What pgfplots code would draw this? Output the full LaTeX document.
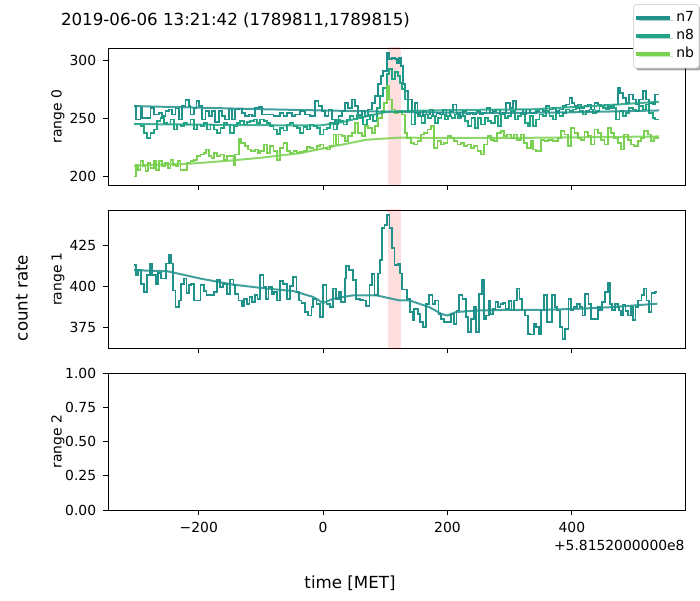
\documentclass[border=0pt]{standalone}
\usepackage{pgfplots}
\pgfplotsset{compat=1.18}
\usepackage{fontspec}
\setmainfont{DejaVu Sans}
\usetikzlibrary{shadows}
\definecolor{cn7}{RGB}{33,145,140}
\definecolor{cn8}{RGB}{34,163,134}
\definecolor{cnb}{RGB}{122,209,81}
\newcommand\tf{\fontsize{6.94pt}{8pt}\selectfont}
\newcommand\lf{\fontsize{8.33pt}{10pt}\selectfont}
\pgfplotsset{
  panel/.style={scale only axis, width=288.5pt, xmin=-346, xmax=582,
    axis line style={line width=0.4pt}, tick align=outside,
    xtick pos=lower, ytick pos=left, major tick length=2.4pt,
    tick style={line width=0.4pt, black}, tick label style={font=\tf},
    xtick={-200,0,200,400}, /pgf/number format/assume math mode=true,
    every axis y label/.style={at={(rel axis cs:-0.0867,0.5)}, anchor=center, rotate=90, font=\tf},
  },
  dat/.style={const plot mark left, line width=0.9pt, mark=none, forget plot, line join=miter},
  bg/.style={line width=1pt, opacity=0.85, mark=none, forget plot},
  band/.style={fill=red, fill opacity=0.13, draw=none, forget plot},
}
\begin{document}
\begin{tikzpicture}
\useasboundingbox (0,0) rectangle (350pt,300pt);
% ---------------- range 0 ----------------
\begin{axis}[panel, at={(54pt,207.5pt)}, anchor=south west, height=68.5pt,
  ymin=193, ymax=311, ytick={200,250,300}, xticklabels={,,,}, ylabel={range 0},
  legend style={at={(rel axis cs:0.9099,1.321)}, anchor=north west, draw=black!15, fill=white,
    rounded corners=1.5pt, font=\tf, inner xsep=0.5pt, inner ysep=1.5pt, row sep=-1.6pt,
    cells={anchor=west}, drop shadow={shadow xshift=1.2pt, shadow yshift=-1.2pt, fill=black, opacity=0.35}},
  legend image code/.code={\draw[#1, line width=2pt] (0pt,0pt) -- (17pt,0pt);}]
\addplot[band] coordinates {(104,150) (125,150) (125,350) (104,350)} -- cycle;
\addplot[dat, cn7] coordinates {(-304.3,261.5) (-301.6,249.4) (-293.6,259.5) (-290.9,250.9) (-277.5,259.5) (-272.2,253.7) (-264.2,255.2) (-258.8,252.3) (-253.5,256.6) (-248.1,258.1) (-242.8,253.7) (-237.4,258.9) (-232.1,249.4) (-226.7,261) (-221.4,265.9) (-216,261) (-213.4,253.7) (-208,259.5) (-203.7,265.3) (-200,261) (-194.7,249.4) (-189.3,256.6) (-184,252.3) (-178.6,256.6) (-173.3,247.4) (-167.9,256.6) (-162.6,252.3) (-157.2,249.4) (-151.9,258.1) (-146.5,249.4) (-141.2,258.1) (-135.8,258.9) (-130.5,255.2) (-125.1,252.3) (-119.8,253.7) (-114.4,252.3) (-109.1,259.5) (-103.7,260.1) (-98.4,253.7) (-79.9,252.3) (-69,255.2) (-63.6,252.3) (-58.3,255.2) (-50.3,252.3) (-44.9,253.7) (-36.9,256.6) (-28.9,253.7) (-20.9,252.3) (-12.8,265.3) (-7.5,261) (-2.1,256.6) (3.2,252.3) (8.6,258.1) (13.9,249.4) (19.3,245.1) (24.6,252.3) (29.9,256.6) (35.3,263.8) (40.6,259.5) (46,266.7) (51.3,261) (56.7,252.3) (62,256.6) (67.4,252.3) (72.7,258.1) (78.1,263.8) (83.4,269.6) (88.8,279.7) (92.5,286.9) (96.8,291.2) (102.1,307.1) (106.4,301.3) (110.2,302.7) (115.5,301.3) (118.2,298.4) (121.9,302.7) (125.1,295.5) (128.9,279.7) (131.6,273.9) (136.9,266.7) (143.3,256.6) (147.6,263.8) (151.9,255.2) (155.6,252.3) (161,256.6) (166.3,253.7) (171.7,258.1) (177,252.3) (182.4,255.2) (187.7,253.7) (193,258.1) (198.4,252.3) (203.7,256.6) (209.1,262.4) (214.4,255.2) (219.8,252.3) (225.1,256.6) (230.5,253.7) (235.8,255.2) (241.2,253.7) (246.5,256.6) (251.9,253.7) (257.2,255.2) (262.6,259.5) (267.9,255.2) (273.3,256.6) (278.6,258.1) (283.9,253.7) (289.3,255.2) (294.6,263.8) (300,259.5) (305.3,265.3) (310.7,258.1) (321.4,253.7) (326.7,258.1) (332.1,255.2) (342.8,256.6) (348.1,258.1) (353.5,256.6) (358.8,261) (364.2,258.1) (369.5,259.5) (374.9,256.6) (380.2,258.1) (385.6,261) (390.9,262.4) (396.3,268.2) (400.5,263.8) (404.3,261) (409.6,262.4) (415,259.5) (420.3,261) (425.7,262.4) (431,258.1) (436.4,263.8) (441.7,262.4) (447.1,261) (452.4,262.4) (457.8,259.5) (463.1,261) (468.4,262.4) (473.8,276.8) (477.5,272.5) (481.8,268.2) (487.2,263.8) (492.5,271) (497.9,266.7) (503.2,262.4) (508.6,266.7) (513.9,273.9) (519.3,266.7) (524.6,263.8) (529.9,262.4) (534.2,271) (540.4,271)};
\addplot[dat, cn8] coordinates {(-304.3,246) (-293.6,243.7) (-288.2,237.9) (-282.9,233.6) (-277.5,237.9) (-272.2,240.8) (-266.8,248) (-261.5,250.9) (-256.1,246.5) (-250.8,245.1) (-245.5,249.4) (-240.1,240.8) (-234.8,245.1) (-229.4,243.7) (-224.1,246.5) (-218.7,245.1) (-213.4,249.4) (-208,240.8) (-202.7,245.1) (-197.3,243.7) (-192,246.5) (-186.6,240.8) (-181.3,245.1) (-175.9,240.8) (-170.6,237.9) (-165.2,242.2) (-159.9,246.5) (-154.5,245.1) (-149.2,237.9) (-143.9,243.7) (-138.5,246.5) (-133.2,248) (-127.8,245.1) (-122.5,247.4) (-117.1,248) (-111.8,249.4) (-106.4,246.5) (-101.1,249.4) (-95.7,248) (-90.4,246.5) (-85,243.7) (-79.7,240.8) (-74.3,237) (-69,242.2) (-63.6,239.9) (-58.3,245.1) (-52.9,246.5) (-47.6,243.7) (-42.2,242.2) (-36.9,237.9) (-31.6,242.8) (-26.2,240.8) (-20.9,245.1) (-15.5,243.7) (-10.2,242.2) (-4.8,236.5) (0.5,240.8) (5.9,242.2) (11.2,246.5) (16.6,240.8) (21.9,249.4) (27.3,248) (32.6,245.1) (38,249.4) (43.3,252.3) (48.7,249.4) (54,253.7) (59.4,250.9) (64.7,245.1) (70.1,249.4) (75.4,253.7) (80.7,248) (86.1,259.5) (91.4,269.6) (96.8,276.8) (102.1,288.3) (106.4,292.7) (110.2,284) (115.5,290) (119.8,286.9) (123.5,281.1) (127.3,275.4) (131.6,266.7) (136.9,256.6) (142.2,245.1) (147.6,255.2) (152.9,252.3) (158.3,246.5) (163.6,253.7) (169,250.9) (174.3,252.3) (179.7,246.5) (185,250.9) (190.4,253.7) (195.7,249.4) (201.1,252.3) (206.4,250.9) (211.8,253.7) (217.1,250.9) (222.5,252.3) (227.8,248) (233.2,243.7) (238.5,250.9) (243.9,242.2) (249.2,250.9) (254.5,245.1) (259.9,250.9) (265.2,248) (270.6,246.5) (275.9,252.3) (281.3,243.7) (286.6,253.7) (292,250.9) (297.3,252.3) (302.7,256.6) (308,249.4) (313.4,252.3) (318.7,255.2) (324.1,246.5) (329.4,243.7) (332.1,252.3) (337.4,243.7) (342.8,249.4) (348.1,253.7) (353.5,252.3) (358.8,256.6) (364.2,252.3) (369.5,249.4) (374.9,255.2) (380.2,252.3) (385.6,255.2) (390.9,258.1) (396.3,256.6) (401.6,258.1) (406.9,259.5) (412.3,256.6) (417.6,253.7) (423,256.6) (428.3,258.1) (433.7,255.2) (439,256.6) (444.4,261) (449.7,259.5) (455.1,258.1) (460.4,261) (465.8,259.5) (471.1,249.4) (476.5,256.6) (481.8,252.3) (487.2,255.2) (492.5,259.5) (497.9,258.1) (503.2,256.6) (508.6,261) (513.9,258.1) (519.3,262.4) (524.6,255.2) (529.9,250.9) (534.2,249.4) (540.4,249.4)};
\addplot[dat, cnb] coordinates {(-304.3,200.4) (-301.6,210.5) (-297.3,206.2) (-293.6,213.4) (-289.8,209.1) (-285.6,204.8) (-281.3,212) (-277.5,207.6) (-272.2,213.4) (-268.4,206.2) (-264.2,213.4) (-258.8,209.1) (-254.5,212) (-249.2,207.6) (-245.5,214.8) (-241.7,210.5) (-237.4,209.1) (-233.2,213.4) (-229.4,206.2) (-218.7,212) (-213.4,213.4) (-208,214.8) (-202.7,217.7) (-197.3,219.2) (-192,220.6) (-188.2,223.5) (-184,217.7) (-179.7,216.3) (-175.9,220.6) (-170.6,217.7) (-165.2,219.2) (-159.9,214.8) (-154.5,217.7) (-143.9,210.5) (-141.2,219.2) (-135.8,233) (-131.6,229.3) (-126.2,226.4) (-120.9,223.5) (-115.5,222) (-110.2,223.5) (-104.8,220.6) (-101.1,222) (-95.7,227.8) (-90.4,220.6) (-85,226.4) (-79.7,222) (-74.3,214.8) (-69,224.9) (-63.6,229.3) (-58.3,222) (-52.9,220.6) (-47.6,222) (-42.2,220.6) (-36.9,221.5) (-31.6,222.6) (-26.2,225.5) (-20.9,224.9) (-15.5,223.5) (-10.2,226.4) (-4.8,227.8) (0.5,224.9) (5.9,223.5) (11.2,226.4) (16.6,236.5) (20.9,227.8) (24.6,236.5) (29.9,235) (35.3,230.7) (40.6,235) (46,237.9) (51.3,246.5) (56.7,237.9) (62,235) (67.4,243.7) (72.7,242.2) (78.1,237.9) (83.4,243.7) (88.8,250.9) (94.2,256.6) (97.9,263.8) (102.1,278.2) (106.4,266.7) (110.2,258.1) (115.5,255.2) (120.9,256.6) (126.2,253.7) (131.6,237.9) (135.2,233.6) (141.2,229.3) (146.5,227.8) (151.9,230.7) (157.2,236.5) (162.6,237.9) (167.9,240.8) (173.3,243.7) (178.6,224.9) (184,230.7) (189.3,227.8) (194.7,229.3) (200,235) (205.3,233.6) (210.7,230.7) (216,227.8) (221.4,229.3) (226.7,226.4) (232.1,227.8) (237.4,224.9) (242.8,226.4) (248.1,222) (253.5,219.2) (258.8,227.8) (264.2,235) (269.5,232.1) (274.9,230.7) (280.2,237.9) (285.6,239.3) (290.9,235) (296.3,236.5) (301.6,233.6) (307,236.5) (312.3,232.1) (317.6,236.5) (323,229.3) (328.3,224.9) (333.7,230.7) (337.4,223.5) (342.8,222) (350.8,232.1) (356.1,230.7) (361.5,232.1) (369.5,230.7) (377.5,233.6) (382.9,239.3) (388.2,236.5) (393.6,226.4) (398.9,242.2) (404.3,237.9) (409.6,233.6) (415,232.1) (420.3,238.8) (425.7,235) (431,227.8) (436.4,240.8) (441.7,237.9) (447.1,232.1) (452.4,227.8) (457.8,242.2) (463.1,237.9) (468.4,233.6) (473.8,229.3) (479.1,223.5) (484.5,236.5) (489.8,232.1) (495.2,227.8) (500.5,226.4) (505.9,230.7) (511.2,233.6) (516.6,239.3) (521.9,236.5) (527.3,230.7) (532.6,233.6) (540.4,233.6)};
\addplot[bg, cn7] coordinates {(-304,261) (-200,259.6) (-100,258.3) (0,257.2) (100,256.2) (200,255.3) (300,255) (400,255.6) (540,257.2)};
\addplot[bg, cn8] coordinates {(-304,245.5) (-200,245) (-100,244.5) (-5,244.3) (30,247) (60,251) (102,256) (150,257) (250,257.8) (332,258.1) (450,261.5) (540,264.7)};
\addplot[bg, cnb] coordinates {(-304,209.7) (-213,211.4) (-150,214) (-100,216.5) (-37,220.4) (16.6,226.3) (70,232) (123,233.8) (200,233.5) (300,233.5) (400,234) (540,234.8)};
\addlegendimage{cn7}\addlegendentry{n7}
\addlegendimage{cn8}\addlegendentry{n8}
\addlegendimage{cnb}\addlegendentry{nb}
\end{axis}
% ---------------- range 1 ----------------
\begin{axis}[panel, at={(54pt,126pt)}, anchor=south west, height=69pt,
  ymin=362.2, ymax=446.3, ytick={375,400,425}, xticklabels={,,,}, ylabel={range 1}]
\addplot[band] coordinates {(104,300) (125,300) (125,500) (104,500)} -- cycle;
\addplot[dat, cn7] coordinates {(-304,412.7) (-301.3,406.5) (-297.6,409.6) (-293.3,401.4) (-288,396.3) (-282.7,406.5) (-278.4,413.3) (-274.7,406.5) (-269.3,401.4) (-265.6,408) (-261.3,404.5) (-253.3,413.7) (-248,418.8) (-244.3,413.7) (-241.1,397.3) (-237.3,387.1) (-232,391.2) (-228.3,401.4) (-224,404.5) (-219.7,395.7) (-216,400.4) (-212.3,401.4) (-208,391.2) (-197.3,400.4) (-192,396.9) (-187.7,394.3) (-176,396.3) (-170.7,403.5) (-166.4,399.4) (-161.1,401.4) (-154.7,395.3) (-149.3,403.9) (-144,400.4) (-141.3,395.3) (-136,391.2) (-130.7,387.6) (-126.9,392.2) (-122.7,389.2) (-118.4,393.3) (-114.7,390.2) (-109.3,394.3) (-105.6,392.2) (-101.3,406.5) (-96,399.4) (-91.7,392.2) (-88,399.4) (-82.7,395.3) (-78.9,396.3) (-74.7,391.2) (-69.3,403.1) (-64,401.4) (-58.7,392.2) (-53.3,399.8) (-48,405.5) (-42.7,396.3) (-38.4,391.2) (-34.7,389.6) (-29.3,384.1) (-24,382) (-18.7,387.1) (-16,392.2) (-10.7,389.2) (-5.3,381) (0,400.4) (5.3,389.2) (10.7,387.1) (16,398.4) (21.3,392.2) (25.6,396.3) (29.3,390.2) (34.7,404.5) (37.3,412) (41.6,409.6) (48,403.5) (53.3,392.2) (58.7,391.6) (64,391.2) (69.3,387.6) (74.7,400.4) (78.9,407.1) (82.7,394.3) (88,407.6) (91,415.7) (94.9,435.1) (98.7,437.1) (102.4,443.3) (106.7,435.1) (110.9,422.9) (114.7,412.7) (120,413.3) (123.7,407.6) (126.9,397.8) (134.4,392.2) (139.7,384.1) (144,379) (146.7,386.1) (152,383.1) (155.7,377.9) (160,374.9) (165.3,389.2) (170.7,394.3) (176,389.2) (180.3,391.2) (185.6,383.1) (189.3,380) (194.7,377.9) (205.3,383.1) (210.7,376.9) (214.4,385.1) (218.7,394.3) (224,392.2) (229.3,381) (233.6,371.8) (237.3,380) (242.7,387.1) (246.4,371.8) (250.7,395.3) (254.9,403.9) (258.7,380) (262.4,382) (266.7,391.2) (269.3,383.1) (273.1,386.1) (277.3,390.2) (281.6,387.1) (285.3,389.2) (289.1,389.6) (293.3,386.1) (298.7,390.8) (302.9,385.1) (306.7,391.2) (312,398.4) (315.7,392.2) (320,385.1) (325.3,382) (329.6,370.8) (333.3,370.4) (338.7,376.9) (342.4,374.9) (346.7,370.8) (350.9,385.1) (354.7,394.3) (360,378) (368,394.3) (372.3,387.1) (376,385.1) (381.3,374.9) (385.1,367.8) (389.3,373.9) (394.7,392.2) (398.9,385.1) (402.7,387.1) (408,389.2) (413.3,387.1) (417.1,382) (421.3,394.9) (426.7,389.2) (430.9,380) (441.6,387.1) (445.3,385.1) (449.1,390.2) (453.3,396.3) (457.6,401.8) (461.3,389.2) (465.1,385.5) (469.3,389.2) (473.6,387.1) (475.7,385.1) (478.9,382) (482.7,388.2) (486.4,384.7) (490.7,382) (494.9,387.1) (498.7,379.4) (502.4,387.1) (506.7,391.2) (512,394.3) (516.3,398.4) (520,391.2) (523.7,384.1) (528,395.7) (533.3,396.3) (537.6,396.3)};
\addplot[bg, cn7] coordinates {(-304,409.6) (-250.7,409) (-197.3,404.5) (-144,400.8) (-90.7,398.4) (-48,396.9) (-16,393.3) (0,389.6) (16,392.2) (48,394.3) (85.3,394.3) (122.7,391.2) (138.7,391.2) (170.7,387.1) (190,383) (200,382) (213.3,384.1) (250.7,385.1) (304,385.5) (357.3,385.5) (410.7,386.1) (464,387.1) (537.6,389.2)};
\end{axis}
% ---------------- range 2 ----------------
\begin{axis}[panel, at={(54pt,45pt)}, anchor=south west, height=68.5pt,
  ymin=0, ymax=1, ytick={0,0.25,0.5,0.75,1}, yticklabels={0.00,0.25,0.50,0.75,1.00},
  xticklabels={−200,0,200,400}, ylabel={range 2}]
\end{axis}
\node[font=\lf] at (117.75pt,290pt) {2019-06-06 13:21:42 (1789811,1789815)};
\node[font=\lf, rotate=90] at (11pt,151pt) {count rate};
\node[font=\lf] at (175pt,8.5pt) {time [MET]};
\node[font=\tf, anchor=east, inner sep=0pt] at (342.5pt,27.5pt) {+5.8152000000e8};
\end{tikzpicture}
\end{document}
